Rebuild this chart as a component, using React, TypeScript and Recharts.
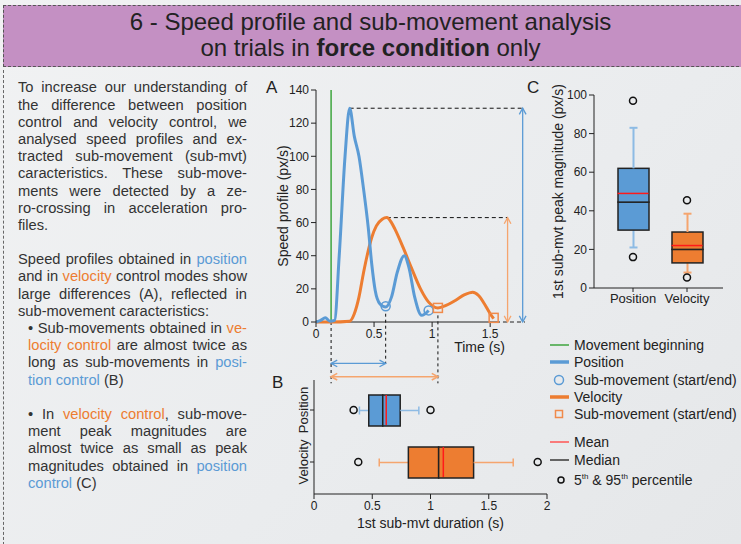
import React from "react";
import { ComposedChart, Line, Scatter, Bar, XAxis, YAxis, ReferenceLine, Label } from "recharts";

const FONT = '"Liberation Sans", Arial, Helvetica, sans-serif';
const BLUE = "#5b9bd5";
const ORANGE = "#ed7d31";
const BLUE_LIGHT = "#8dbbe4";
const ORANGE_LIGHT = "#f5a56e";
const GREEN = "#3ea53e";
const INK = "#222";

// ---- A: speed profiles (t in s, v in px/s)
const positionProfile = [
    { t: 0, v: 0 }, { t: 0.04, v: 1 }, { t: 0.08, v: 2.5 }, { t: 0.12, v: 0.5 }, { t: 0.16, v: 1 },
    { t: 0.2, v: 40 }, { t: 0.25, v: 100 }, { t: 0.29, v: 129 }, { t: 0.33, v: 112 }, { t: 0.37, v: 100 },
    { t: 0.41, v: 80 }, { t: 0.45, v: 57 }, { t: 0.48, v: 35 }, { t: 0.51, v: 19 }, { t: 0.55, v: 11 },
    { t: 0.6, v: 9 }, { t: 0.65, v: 15 }, { t: 0.7, v: 30 }, { t: 0.76, v: 40 }, { t: 0.8, v: 33 },
    { t: 0.85, v: 15 }, { t: 0.91, v: 4 }, { t: 0.97, v: 7 },
];
const velocityProfile = [
    { t: 0, v: 0 }, { t: 0.13, v: 0 }, { t: 0.29, v: 0.5 }, { t: 0.33, v: 5 }, { t: 0.37, v: 15 },
    { t: 0.41, v: 30 }, { t: 0.44, v: 40 }, { t: 0.48, v: 51 }, { t: 0.52, v: 58 }, { t: 0.57, v: 62 },
    { t: 0.61, v: 63 }, { t: 0.65, v: 60 }, { t: 0.68, v: 56 }, { t: 0.75, v: 45 }, { t: 0.82, v: 33 },
    { t: 0.9, v: 20 }, { t: 0.97, v: 12 }, { t: 1.05, v: 8.5 }, { t: 1.12, v: 10 }, { t: 1.2, v: 13 },
    { t: 1.28, v: 16.5 }, { t: 1.35, v: 18 }, { t: 1.4, v: 16 }, { t: 1.45, v: 11 }, { t: 1.5, v: 5 },
    { t: 1.53, v: 2 },
];
const positionSubMvt = [{ t: 0.6, v: 9.5 }, { t: 0.97, v: 7 }];
const velocitySubMvt = [{ t: 1.05, v: 8.5 }, { t: 1.53, v: 2.5 }];
const moveStart = 0.13;
const positionPeak = { t: 0.29, v: 129 };
const velocityPeak = { t: 0.61, v: 63 };
const timeTicks = [0, 0.5, 1, 1.5];
const speedTicks = [0, 20, 40, 60, 80, 100, 120, 140];

// ---- B: 1st sub-movement duration (s)
const durCats = ["Position", "Velocity"];
const durLow = [0.39, 0.56];
const durQ1 = [0.47, 0.81];
const durMed = [0.59, 1.07];
const durQ3 = [0.74, 1.37];
const durHigh = [0.9, 1.71];
const durMean = [0.62, 1.11];
const durOutLow = [0.34, 0.38];
const durOutHigh = [1.0, 1.92];
const durTicks = [0, 0.5, 1, 1.5, 2];

// ---- C: 1st sub-movement peak magnitude (px/s)
const peakCats = ["Position", "Velocity"];
const peakLow = [21, 8];
const peakQ1 = [30, 13];
const peakMed = [44.5, 20];
const peakQ3 = [62, 29];
const peakHigh = [83, 38.5];
const peakMean = [49, 22];
const peakOutLow = [16, 5.5];
const peakOutHigh = [97, 45.5];
const peakTicks = [0, 20, 40, 60, 80, 100];

function toBoxRows(cats: string[], lo: number[], q1: number[], med: number[], q3: number[], hi: number[], mean: number[], oLo: number[], oHi: number[]) {
    return cats.map((name, i) => ({
        name,
        base: lo[i],
        wLow: q1[i] - lo[i],
        boxLow: med[i] - q1[i],
        boxHigh: q3[i] - med[i],
        wHigh: hi[i] - q3[i],
        mean: mean[i],
        outLow: oLo[i],
        outHigh: oHi[i],
    }));
}

const durRows = toBoxRows(durCats, durLow, durQ1, durMed, durQ3, durHigh, durMean, durOutLow, durOutHigh);
const peakRows = toBoxRows(peakCats, peakLow, peakQ1, peakMed, peakQ3, peakHigh, peakMean, peakOutLow, peakOutHigh);

const boxFill: Record<string, string> = { Position: BLUE, Velocity: ORANGE };
const whiskerColor: Record<string, string> = { Position: BLUE_LIGHT, Velocity: ORANGE_LIGHT };

// line with open arrow heads on both ends
function ArrowLine(props: any) {
    const { x1, y1, x2, y2, stroke, strokeWidth } = props;
    const a = Math.atan2(y2 - y1, x2 - x1);
    const head = (x: number, y: number, ang: number) => {
        const L = 7, w = 0.5;
        return `M${x + L * Math.cos(ang + w)},${y + L * Math.sin(ang + w)} L${x},${y} L${x + L * Math.cos(ang - w)},${y + L * Math.sin(ang - w)}`;
    };
    return (
        <g>
            <line x1={x1} y1={y1} x2={x2} y2={y2} stroke={stroke} strokeWidth={strokeWidth} />
            <path d={head(x1, y1, a)} fill="none" stroke={stroke} strokeWidth={strokeWidth} />
            <path d={head(x2, y2, a + Math.PI)} fill="none" stroke={stroke} strokeWidth={strokeWidth} />
        </g>
    );
}

const OpenCircle = (p: any) => <circle cx={p.cx} cy={p.cy} r={4.5} fill="none" stroke={BLUE} strokeWidth={1.5} />;
const OpenSquare = (p: any) => <rect x={p.cx - 4.5} y={p.cy - 4.5} width={9} height={9} fill="none" stroke="#f08a4b" strokeWidth={1.5} />;
const Outlier = (p: any) => <circle cx={p.cx} cy={p.cy} r={3.5} fill="none" stroke="#111" strokeWidth={1.5} />;

const BoxRect = (p: any) => (
    <rect x={p.x} y={p.y} width={p.width} height={p.height} fill={boxFill[p.payload.name]} stroke={INK} strokeWidth={1.5} />
);

// horizontal whiskers (chart B)
const HWhiskerLow = (p: any) => {
    const cy = p.y + p.height / 2;
    const c = whiskerColor[p.payload.name];
    return (
        <g>
            <line x1={p.x} y1={cy} x2={p.x + p.width} y2={cy} stroke={c} strokeWidth={1.5} />
            <line x1={p.x} y1={cy - 4} x2={p.x} y2={cy + 4} stroke={c} strokeWidth={1.5} />
        </g>
    );
};
const HWhiskerHigh = (p: any) => {
    const cy = p.y + p.height / 2;
    const c = whiskerColor[p.payload.name];
    const xe = p.x + p.width;
    return (
        <g>
            <line x1={p.x} y1={cy} x2={xe} y2={cy} stroke={c} strokeWidth={1.5} />
            <line x1={xe} y1={cy - 4} x2={xe} y2={cy + 4} stroke={c} strokeWidth={1.5} />
        </g>
    );
};
// vertical whiskers (chart C)
const VWhiskerLow = (p: any) => {
    const cx = p.x + p.width / 2;
    const c = whiskerColor[p.payload.name];
    const ye = p.y + p.height;
    return (
        <g>
            <line x1={cx} y1={p.y} x2={cx} y2={ye} stroke={c} strokeWidth={2} />
            <line x1={cx - 4} y1={ye} x2={cx + 4} y2={ye} stroke={c} strokeWidth={2} />
        </g>
    );
};
const VWhiskerHigh = (p: any) => {
    const cx = p.x + p.width / 2;
    const c = whiskerColor[p.payload.name];
    return (
        <g>
            <line x1={cx} y1={p.y} x2={cx} y2={p.y + p.height} stroke={c} strokeWidth={2} />
            <line x1={cx - 4} y1={p.y} x2={cx + 4} y2={p.y} stroke={c} strokeWidth={2} />
        </g>
    );
};
const MeanV = (p: any) => <line x1={p.cx} x2={p.cx} y1={p.cy - 15} y2={p.cy + 15} stroke="#ff1a1a" strokeWidth={1.5} />;
const MeanH = (p: any) => <line x1={p.cx - 15.5} x2={p.cx + 15.5} y1={p.cy} y2={p.cy} stroke="#ff1a1a" strokeWidth={1.5} />;

const RotTick = (p: any) => (
    <text x={p.x} y={p.y} transform={`rotate(-90 ${p.x} ${p.y})`} textAnchor="middle" fontSize={13} fill={INK}>
        {p.payload.value}
    </text>
);

const axisProps = {
    axisLine: { stroke: INK },
    tickLine: { stroke: INK },
    tick: { fontSize: 12, fill: INK },
    tickSize: 5,
};

function SpeedChart() {
    return (
        <ComposedChart width={280} height={315} margin={{ top: 15, right: 15, bottom: 38, left: 0 }}>
            <XAxis dataKey="t" type="number" domain={[0, 1.8]} ticks={timeTicks} height={30} allowDataOverflow {...axisProps} axisLine={false}>
                <Label value="Time (s)" position="insideBottomRight" offset={0} dx={-20} fontSize={14} fill={INK} />
            </XAxis>
            <YAxis type="number" domain={[0, 140]} ticks={speedTicks} width={56} {...axisProps}>
                <Label value="Speed profile (px/s)" angle={-90} position="insideLeft" offset={23} fontSize={14} fill={INK} style={{ textAnchor: "middle" }} />
            </YAxis>
            <ReferenceLine segment={[{ x: 0, y: 0 }, { x: 1.55, y: 0 }]} stroke={INK} />
            <ReferenceLine segment={[{ x: 1.55, y: 0 }, { x: 1.8, y: 0 }]} stroke={INK} strokeDasharray="4 3" />
            <ReferenceLine x={moveStart} stroke={GREEN} strokeWidth={1.5} />
            <ReferenceLine segment={[{ x: positionPeak.t, y: positionPeak.v }, { x: 1.78, y: positionPeak.v }]} stroke="#111" strokeDasharray="4 3" />
            <ReferenceLine segment={[{ x: velocityPeak.t, y: velocityPeak.v }, { x: 1.65, y: velocityPeak.v }]} stroke="#111" strokeDasharray="4 3" />
            <ReferenceLine segment={[{ x: 1.78, y: 0 }, { x: 1.78, y: positionPeak.v }]} stroke={BLUE} strokeWidth={1.3} shape={ArrowLine} />
            <ReferenceLine segment={[{ x: 1.65, y: 0 }, { x: 1.65, y: velocityPeak.v }]} stroke={ORANGE_LIGHT} strokeWidth={1.3} shape={ArrowLine} />
            <ReferenceLine segment={[{ x: moveStart, y: 0 }, { x: moveStart, y: -37 }]} stroke="#111" strokeDasharray="3 3" ifOverflow="visible" />
            <ReferenceLine segment={[{ x: 0.6, y: 5 }, { x: 0.6, y: -25 }]} stroke="#111" strokeDasharray="3 3" ifOverflow="visible" />
            <ReferenceLine segment={[{ x: 1.05, y: 4 }, { x: 1.05, y: -37 }]} stroke="#111" strokeDasharray="3 3" ifOverflow="visible" />
            <ReferenceLine segment={[{ x: moveStart, y: -25 }, { x: 0.6, y: -25 }]} stroke={BLUE} strokeWidth={1.3} shape={ArrowLine} ifOverflow="visible" />
            <ReferenceLine segment={[{ x: moveStart, y: -33 }, { x: 1.05, y: -33 }]} stroke={ORANGE_LIGHT} strokeWidth={1.6} shape={ArrowLine} ifOverflow="visible" />
            <Line data={velocityProfile} dataKey="v" type="monotone" stroke={ORANGE} strokeWidth={3} dot={false} isAnimationActive={false} />
            <Line data={positionProfile} dataKey="v" type="monotone" stroke={BLUE} strokeWidth={3} dot={false} isAnimationActive={false} />
            <Scatter data={positionSubMvt} dataKey="v" shape={OpenCircle} isAnimationActive={false} />
            <Scatter data={velocitySubMvt} dataKey="v" shape={OpenSquare} isAnimationActive={false} />
        </ComposedChart>
    );
}

function DurationChart() {
    return (
        <ComposedChart layout="vertical" data={durRows} width={300} height={160} margin={{ top: 2, right: 13, bottom: 4, left: 0 }}>
            <XAxis type="number" domain={[0, 2]} ticks={durTicks} height={40} {...axisProps}>
                <Label value="1st sub-mvt duration (s)" position="insideBottom" offset={6} fontSize={14} fill={INK} />
            </XAxis>
            <YAxis type="category" dataKey="name" width={54} padding={{ top: 4, bottom: 6 }} axisLine={{ stroke: INK }} tickLine={{ stroke: INK }} tickSize={4} tick={RotTick} />
            <Bar dataKey="base" stackId="b" barSize={31} fillOpacity={0} isAnimationActive={false} />
            <Bar dataKey="wLow" stackId="b" barSize={31} shape={HWhiskerLow} isAnimationActive={false} />
            <Bar dataKey="boxLow" stackId="b" barSize={31} shape={BoxRect} isAnimationActive={false} />
            <Bar dataKey="boxHigh" stackId="b" barSize={31} shape={BoxRect} isAnimationActive={false} />
            <Bar dataKey="wHigh" stackId="b" barSize={31} shape={HWhiskerHigh} isAnimationActive={false} />
            <Scatter dataKey="mean" shape={MeanV} isAnimationActive={false} />
            <Scatter dataKey="outLow" shape={Outlier} isAnimationActive={false} />
            <Scatter dataKey="outHigh" shape={Outlier} isAnimationActive={false} />
        </ComposedChart>
    );
}

function PeakChart() {
    return (
        <ComposedChart data={peakRows} width={195} height={235} margin={{ top: 15, right: 12, bottom: 2, left: 0 }}>
            <XAxis dataKey="name" type="category" height={25} padding={{ left: 12, right: 9 }} axisLine={{ stroke: INK }} tickLine={{ stroke: INK }} tickSize={4} tick={{ fontSize: 13, fill: INK }} />
            <YAxis type="number" domain={[0, 100]} ticks={peakTicks} width={54} {...axisProps}>
                <Label value="1st sub-mvt peak magnitude (px/s)" angle={-90} position="insideLeft" offset={18} fontSize={14} fill={INK} style={{ textAnchor: "middle" }} />
            </YAxis>
            <Bar dataKey="base" stackId="c" barSize={31} fillOpacity={0} isAnimationActive={false} />
            <Bar dataKey="wLow" stackId="c" barSize={31} shape={VWhiskerLow} isAnimationActive={false} />
            <Bar dataKey="boxLow" stackId="c" barSize={31} shape={BoxRect} isAnimationActive={false} />
            <Bar dataKey="boxHigh" stackId="c" barSize={31} shape={BoxRect} isAnimationActive={false} />
            <Bar dataKey="wHigh" stackId="c" barSize={31} shape={VWhiskerHigh} isAnimationActive={false} />
            <Scatter dataKey="mean" shape={MeanH} isAnimationActive={false} />
            <Scatter dataKey="outLow" shape={Outlier} isAnimationActive={false} />
            <Scatter dataKey="outHigh" shape={Outlier} isAnimationActive={false} />
        </ComposedChart>
    );
}

type Seg = string | { t: string; c: string };
const P = (t: string) => ({ t, c: BLUE });
const V = (t: string) => ({ t, c: ORANGE });

const textLines: { segs: Seg[]; indent?: boolean; last?: boolean }[] = [
    { segs: ["To increase our understanding of"] },
    { segs: ["the difference between position"] },
    { segs: ["control and velocity control, we"] },
    { segs: ["analysed speed profiles and ex-"] },
    { segs: ["tracted sub-movement (sub-mvt)"] },
    { segs: ["caracteristics. These sub-move-"] },
    { segs: ["ments were detected by a ze-"] },
    { segs: ["ro-crossing in acceleration pro-"] },
    { segs: ["files."], last: true },
    { segs: [] },
    { segs: ["Speed profiles obtained in ", P("position")] },
    { segs: ["and in ", V("velocity"), " control modes show"] },
    { segs: ["large differences (A), reflected in"] },
    { segs: ["sub-movement caracteristics:"], last: true },
    { segs: ["• Sub-movements obtained in ", V("ve-")], indent: true },
    { segs: [V("locity control"), " are almost twice as"], indent: true },
    { segs: ["long as sub-movements in ", P("posi-")], indent: true },
    { segs: [P("tion control"), " (B)"], indent: true, last: true },
    { segs: [] },
    { segs: ["• In ", V("velocity control"), ", sub-move-"], indent: true },
    { segs: ["ment peak magnitudes are"], indent: true },
    { segs: ["almost twice as small as peak"], indent: true },
    { segs: ["magnitudes obtained in ", P("position")], indent: true },
    { segs: [P("control"), " (C)"], indent: true, last: true },
];

const legendItems = [
    { kind: "line", color: GREEN, w: 1.5, label: "Movement beginning", y: 345 },
    { kind: "line", color: BLUE, w: 3.5, label: "Position", y: 362 },
    { kind: "circle", color: BLUE, w: 1.5, label: "Sub-movement (start/end)", y: 380 },
    { kind: "line", color: ORANGE, w: 3.5, label: "Velocity", y: 397 },
    { kind: "square", color: "#f08a4b", w: 1.5, label: "Sub-movement (start/end)", y: 414 },
    { kind: "line", color: "#ff5555", w: 1.5, label: "Mean", y: 442 },
    { kind: "line", color: "#555", w: 1.8, label: "Median", y: 460 },
    { kind: "dot", color: "#111", w: 1.5, label: "pct", y: 480 },
];

function LegendIcon({ kind, color, w }: { kind: string; color: string; w: number }) {
    return (
        <svg width={22} height={14} style={{ display: "block" }}>
            {kind === "line" && <line x1={1} x2={20} y1={7} y2={7} stroke={color} strokeWidth={w} />}
            {kind === "circle" && <circle cx={10} cy={7} r={4.5} fill="none" stroke={color} strokeWidth={w} />}
            {kind === "square" && <rect x={6.5} y={3.5} width={7} height={7} fill="none" stroke={color} strokeWidth={w} />}
            {kind === "dot" && <circle cx={12} cy={7} r={3} fill="none" stroke={color} strokeWidth={w} />}
        </svg>
    );
}

export default function App() {
    const lh = 17.2;
    return (
        <div style={{ position: "absolute", left: 0, top: 0, width: 741, height: 544, overflow: "hidden", fontFamily: FONT, color: INK, background: "linear-gradient(135deg, #f1f2f3 0%, #eaecee 60%, #e5e7e9 100%)" }}>
            {/* header */}
            <div style={{ position: "absolute", left: 3, top: 5, width: 760, height: 60, background: "#c490c3", borderTop: "1.5px dashed #555", borderBottom: "1.5px dashed #555", borderLeft: "1.5px dashed #555" }} />
            <div style={{ position: "absolute", left: 0, top: 9, width: 741, textAlign: "center", fontSize: 24, lineHeight: "26px", color: "#222" }}>
                <div>6 - Speed profile and sub-movement analysis</div>
                <div>on trials in <b>force condition</b> only</div>
            </div>
            <div style={{ position: "absolute", left: 3, top: 70, height: 480, borderLeft: "1.5px dashed #666" }} />

            {/* left text */}
            <div style={{ position: "absolute", left: 0, top: 79.4, fontSize: 14.7, lineHeight: `${lh}px`, color: "#333" }}>
                {textLines.map((ln, i) => (
                    <div
                        key={i}
                        style={{
                            marginLeft: ln.indent ? 28 : 18,
                            width: ln.indent ? 219 : 229,
                            height: lh,
                            whiteSpace: "nowrap",
                            textAlign: ln.last ? "left" : "justify",
                            textAlignLast: ln.last ? "left" : "justify",
                        } as React.CSSProperties}
                    >
                        {ln.segs.map((s, j) => (typeof s === "string" ? <span key={j}>{s}</span> : <span key={j} style={{ color: s.c }}>{s.t}</span>))}
                    </div>
                ))}
            </div>

            {/* panel letters */}
            <div style={{ position: "absolute", left: 266, top: 78, fontSize: 17 }}>A</div>
            <div style={{ position: "absolute", left: 272, top: 373, fontSize: 17 }}>B</div>
            <div style={{ position: "absolute", left: 527, top: 78, fontSize: 17 }}>C</div>

            <div style={{ position: "absolute", left: 260, top: 75 }}>
                <SpeedChart />
            </div>
            <div style={{ position: "absolute", left: 260, top: 378 }}>
                <DurationChart />
            </div>
            <div style={{ position: "absolute", left: 540, top: 80 }}>
                <PeakChart />
            </div>

            {/* legend */}
            {legendItems.map((it, i) => (
                <div key={i} style={{ position: "absolute", left: 549, top: it.y - 8, height: 16, display: "flex", alignItems: "center", fontSize: 14, whiteSpace: "nowrap" }}>
                    <LegendIcon kind={it.kind} color={it.color} w={it.w} />
                    <span style={{ marginLeft: 3 }}>
                        {it.label === "pct" ? (
                            <>5<sup style={{ fontSize: 8 }}>th</sup> &amp; 95<sup style={{ fontSize: 8 }}>th</sup> percentile</>
                        ) : (
                            it.label
                        )}
                    </span>
                </div>
            ))}
        </div>
    );
}
